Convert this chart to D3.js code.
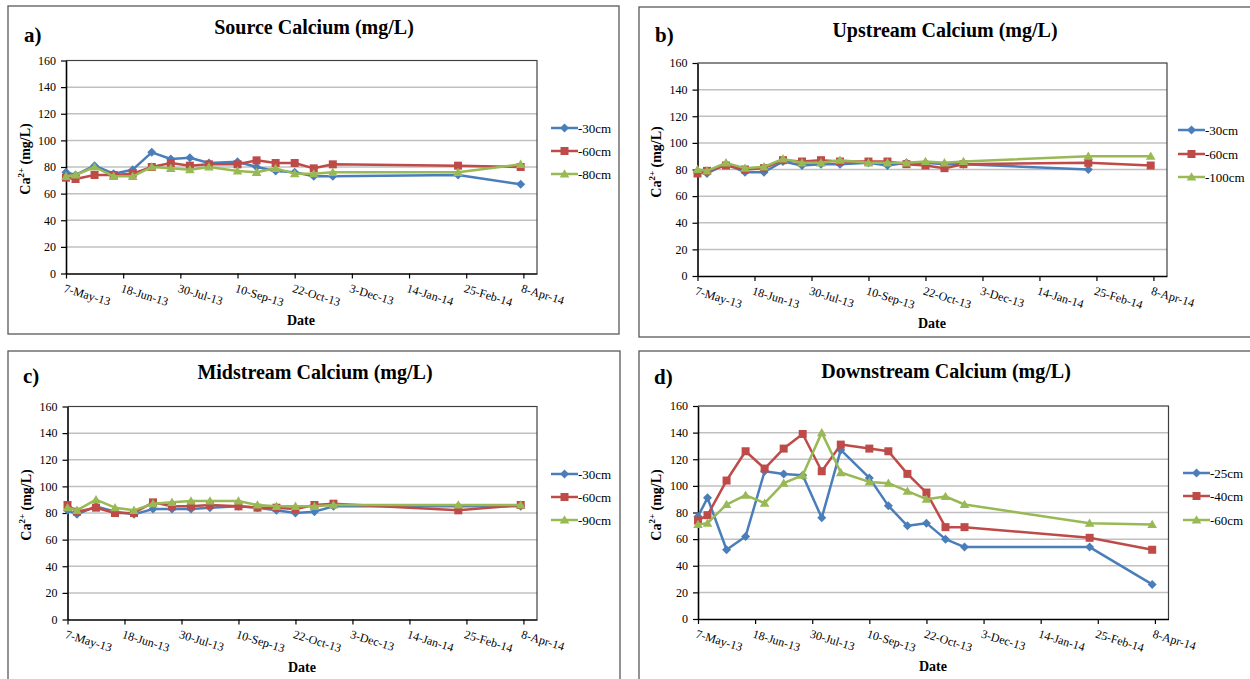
<!DOCTYPE html>
<html>
<head>
<meta charset="utf-8">
<script src="https://cdn.jsdelivr.net/npm/d3@7"></script>
<style>
  body { margin: 0; background: #fff; }
  svg, svg text { font-family: "Liberation Serif", "DejaVu Serif", serif !important; fill: #000; }
</style>
</head>
<body>
<svg id="chart" width="1250" height="679" font-family="Liberation Serif, DejaVu Serif, serif"></svg>
<script>
// sampling dates (same for every site)
const sampleDates = ['2013-05-07', '2013-05-14', '2013-05-28', '2013-06-11', '2013-06-25',
  '2013-07-09', '2013-07-23', '2013-08-06', '2013-08-20', '2013-09-10', '2013-09-24',
  '2013-10-08', '2013-10-22', '2013-11-05', '2013-11-19', '2014-02-19', '2014-04-06'];
const tickDates = ['2013-05-07', '2013-06-18', '2013-07-30', '2013-09-10', '2013-10-22',
  '2013-12-03', '2014-01-14', '2014-02-25', '2014-04-08'];
const axisEnd = '2014-04-18';
const yTicks = [0, 20, 40, 60, 80, 100, 120, 140, 160];

// a) Source
const sourceLabels = ['-30cm', '-60cm', '-80cm'];
const source30 = [76, 74, 81, 75, 78, 91, 86, 87, 83, 84, 80, 77, 76, 73, 73, 74, 67];
const source60 = [72, 71, 74, 74, 75, 80, 83, 81, 82, 82, 85, 83, 83, 79, 82, 81, 80];
const source80 = [73, 74, 80, 73, 73, 80, 79, 78, 80, 77, 76, 79, 75, 75, 76, 76, 82];

// b) Upstream
const upLabels = ['-30cm', '-60cm', '-100cm'];
const up30 = [78, 77, 84, 78, 78, 86, 83, 84, 84, 85, 83, 85, 85, 84, 84, 80, null];
const up60 = [77, 79, 83, 80, 81, 87, 86, 87, 86, 86, 86, 84, 83, 81, 84, 85, 83];
const up100 = [80, 79, 85, 81, 82, 88, 85, 85, 87, 85, 85, 85, 86, 85, 86, 90, 90];

// c) Midstream
const midLabels = ['-30cm', '-60cm', '-90cm'];
const mid30 = [82, 79, 85, 81, 79, 83, 83, 83, 84, 85, 84, 82, 80, 81, 85, 85, 85];
const mid60 = [86, 81, 84, 80, 80, 88, 85, 85, 86, 85, 84, 84, 83, 86, 87, 82, 86];
const mid90 = [84, 82, 90, 84, 82, 87, 88, 89, 89, 89, 86, 85, 85, 85, 86, 86, 86];

// d) Downstream
const downLabels = ['-25cm', '-40cm', '-60cm'];
const down25 = [77, 91, 52, 62, 111, 109, 108, 76, 127, 106, 85, 70, 72, 60, 54, 54, 26];
const down40 = [74, 78, 104, 126, 113, 128, 139, 111, 131, 128, 126, 109, 95, 69, 69, 61, 52];
const down60 = [71, 72, 86, 93, 87, 102, 108, 140, 110, 103, 102, 96, 90, 92, 86, 72, 71];

const colors = ['#4A7EBB', '#BE4B48', '#98B954'];
const markers = ['diamond', 'square', 'triangle'];
const serif = '"Liberation Serif", "DejaVu Serif", serif';

const parse = d3.utcParse('%Y-%m-%d');
const fmt = d3.utcFormat('%-d-%b-%y');

const panels = [
  { tag: 'a)', title: 'Source Calcium (mg/L)', labels: sourceLabels, series: [source30, source60, source80],
    frame: [8, 6, 611, 328], plot: { l: 66, t: 60.5, r: 537, b: 273.5 },
    tagPos: [24, 42], titlePos: [314, 34], datePos: [301, 325], yLab: [30, 159],
    legend: [551, [128, 151, 174]] },
  { tag: 'b)', title: 'Upstream Calcium (mg/L)', labels: upLabels, series: [up30, up60, up100],
    frame: [639, 7, 640, 330], plot: { l: 697.5, t: 63, r: 1167, b: 276 },
    tagPos: [655, 42], titlePos: [945, 37], datePos: [932, 328], yLab: [661, 162],
    legend: [1178, [130, 154, 177]] },
  { tag: 'c)', title: 'Midstream Calcium (mg/L)', labels: midLabels, series: [mid30, mid60, mid90],
    frame: [8, 351, 612, 340], plot: { l: 67.5, t: 406.5, r: 537, b: 619.5 },
    tagPos: [23, 383], titlePos: [315, 379], datePos: [302, 672], yLab: [31, 505],
    legend: [551, [474, 497, 520]] },
  { tag: 'd)', title: 'Downstream Calcium (mg/L)', labels: downLabels, series: [down25, down40, down60],
    frame: [639, 351, 640, 340], plot: { l: 698, t: 406, r: 1168.5, b: 619 },
    tagPos: [654, 384], titlePos: [946, 378], datePos: [933, 671], yLab: [661, 505],
    legend: [1183, [473, 496, 520]] }
];

const svg = d3.select('#chart');

function markerPath(kind) {
  if (kind === 'square') return d3.symbol().type(d3.symbolSquare).size(64)();
  if (kind === 'triangle') return d3.symbol().type(d3.symbolTriangle).size(40)();
  return 'M0,-4.5L4.5,0L0,4.5L-4.5,0Z';
}

function drawMarker(sel, kind, color) {
  sel.append('path')
    .attr('d', markerPath(kind))
    .attr('transform', kind === 'triangle' ? 'translate(0,0.8)' : null)
    .attr('fill', color);
}

panels.forEach((p) => {
  const g = svg.append('g');

  // outer frame
  g.append('rect')
    .attr('x', p.frame[0]).attr('y', p.frame[1])
    .attr('width', p.frame[2]).attr('height', p.frame[3])
    .attr('fill', 'none').attr('stroke', '#595959').attr('stroke-width', 1.3);

  const x = d3.scaleUtc()
    .domain([parse(sampleDates[0]), parse(axisEnd)])
    .range([p.plot.l, p.plot.r]);
  const y = d3.scaleLinear().domain([0, 160]).range([p.plot.b, p.plot.t]);

  // gridlines
  g.selectAll('line.grid')
    .data(yTicks.filter((v) => v > 0))
    .enter().append('line')
    .attr('x1', p.plot.l).attr('x2', p.plot.r)
    .attr('y1', (d) => y(d)).attr('y2', (d) => y(d))
    .attr('stroke', '#c0c0c0').attr('stroke-width', 1.5);

  // plot border (top / right)
  g.append('path')
    .attr('d', `M${p.plot.l},${p.plot.t}H${p.plot.r}V${p.plot.b}`)
    .attr('fill', 'none').attr('stroke', '#404040').attr('stroke-width', 1.2);

  // y axis
  const yAxis = g.append('g')
    .attr('transform', `translate(${p.plot.l},0)`)
    .call(d3.axisLeft(y).tickValues(yTicks).tickSize(5).tickPadding(5).tickSizeOuter(0))
    .attr('font-family', serif);
  yAxis.select('.domain').attr('stroke', '#000').attr('stroke-width', 1.6);
  yAxis.selectAll('.tick line').attr('stroke', '#000').attr('stroke-width', 1.2);
  yAxis.selectAll('text').attr('font-size', 12).attr('font-family', serif);

  // x axis
  const xAxis = g.append('g')
    .attr('transform', `translate(0,${p.plot.b})`)
    .call(d3.axisBottom(x).tickValues(tickDates.map(parse)).tickFormat(fmt).tickSize(5).tickSizeOuter(0))
    .attr('font-family', serif);
  xAxis.select('.domain').attr('stroke', '#000').attr('stroke-width', 1.6);
  xAxis.selectAll('.tick line').attr('stroke', '#000').attr('stroke-width', 1.2);
  xAxis.selectAll('text')
    .attr('font-size', 12)
    .attr('font-family', serif)
    .attr('text-anchor', 'start')
    .attr('x', 2).attr('y', 10).attr('dy', '0.71em')
    .attr('transform', 'rotate(17)');

  // series
  const line = d3.line()
    .defined((d) => d.v !== null)
    .x((d) => x(d.date))
    .y((d) => y(d.v));

  p.series.forEach((vals, i) => {
    const pts = vals.map((v, k) => ({ date: parse(sampleDates[k]), v: v }));
    g.append('path')
      .datum(pts)
      .attr('d', line)
      .attr('fill', 'none')
      .attr('stroke', colors[i])
      .attr('stroke-width', 2.5)
      .attr('stroke-linejoin', 'round');
    const m = g.selectAll(null)
      .data(pts.filter((d) => d.v !== null))
      .enter().append('g')
      .attr('transform', (d) => `translate(${x(d.date)},${y(d.v)})`);
    drawMarker(m, markers[i], colors[i]);
  });

  // legend
  p.labels.forEach((lab, i) => {
    const ly = p.legend[1][i];
    const lx = p.legend[0];
    g.append('line')
      .attr('x1', lx).attr('x2', lx + 27).attr('y1', ly).attr('y2', ly)
      .attr('stroke', colors[i]).attr('stroke-width', 2.5);
    const m = g.append('g').attr('transform', `translate(${lx + 13.5},${ly})`);
    drawMarker(m, markers[i], colors[i]);
    g.append('text')
      .attr('x', lx + 27).attr('y', ly).attr('dy', '0.35em')
      .attr('font-size', 13).attr('font-family', serif)
      .text(lab);
  });

  // titles
  g.append('text')
    .attr('x', p.titlePos[0]).attr('y', p.titlePos[1])
    .attr('text-anchor', 'middle').attr('font-size', 20).attr('font-weight', 'bold')
    .attr('font-family', serif)
    .text(p.title);
  g.append('text')
    .attr('x', p.tagPos[0]).attr('y', p.tagPos[1])
    .attr('font-size', 21).attr('font-weight', 'bold').attr('font-family', serif)
    .text(p.tag);
  g.append('text')
    .attr('x', p.datePos[0]).attr('y', p.datePos[1])
    .attr('text-anchor', 'middle').attr('font-size', 14).attr('font-weight', 'bold')
    .attr('font-family', serif)
    .text('Date');

  const yl = g.append('text')
    .attr('transform', `translate(${p.yLab[0]},${p.yLab[1]}) rotate(-90)`)
    .attr('text-anchor', 'middle').attr('font-size', 14).attr('font-weight', 'bold')
    .attr('font-family', serif);
  yl.append('tspan').text('Ca');
  yl.append('tspan').attr('font-size', 9).attr('dy', -6).text('2+');
  yl.append('tspan').attr('dy', 6).text(' (mg/L)');
});
</script>
</body>
</html>
